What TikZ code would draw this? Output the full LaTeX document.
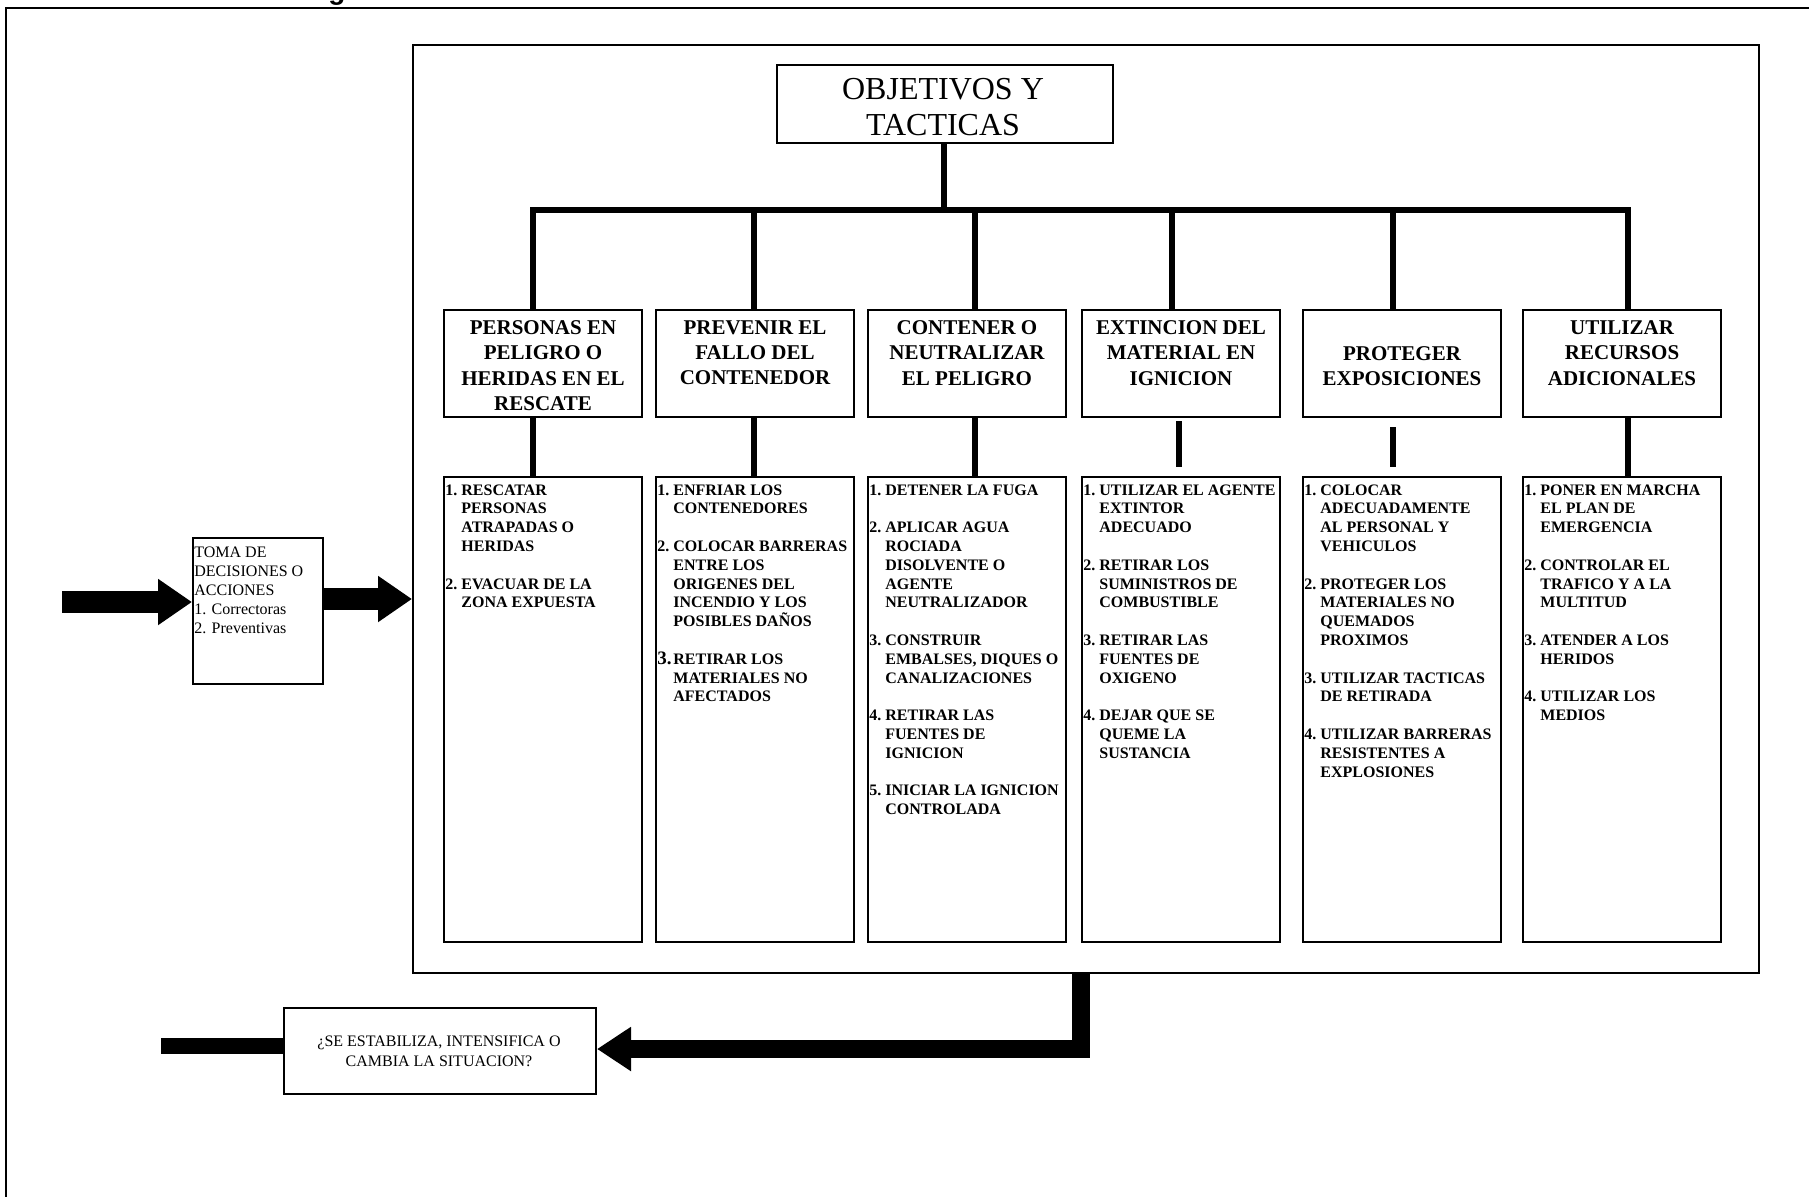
\documentclass[tikz,border=0pt]{standalone}
\usepackage{fontspec}
\setmainfont{Liberation Serif}
\newfontfamily\topfont{Liberation Sans}
\usetikzlibrary{arrows.meta}
\newcommand{\itm}[2]{\makebox[8pt][l]{#1}#2}
\newcommand{\cnt}[1]{\hspace*{8pt}#1}
\newcommand{\gap}{\\[9.4pt]}
\tikzset{
  box/.style={draw, line width=1pt, inner sep=0pt, anchor=north west},
  hdrbox/.style={box, minimum width=99pt, minimum height=53.5pt},
  lstbox/.style={box, minimum width=99pt, minimum height=232.5pt},
  hdrtxt/.style={inner sep=0pt, anchor=north, align=center, font=\bfseries\fontsize{10.5}{12.7}\selectfont},
  lsttxt/.style={inner sep=0pt, anchor=north west, align=left, font=\bfseries\fontsize{8}{9.4}\selectfont},
  stem/.style={line width=2.6pt},
  fat/.style={line width=11pt, -{Triangle[length=17pt, width=22pt]}},
  fatb/.style={line width=9pt, miter limit=10, -{Triangle[length=17pt, width=21pt]}},
}
\begin{document}
\begin{tikzpicture}[x=0.5pt, y=-0.5pt]
\useasboundingbox (0,0) rectangle (1809,1196);
\clip (0,0) rectangle (1809,1196);
\fill[white] (0,0) rectangle (1809,1196);

% cut-off heading glyph at the very top
\node[inner sep=0pt, anchor=base, font=\topfont\bfseries\fontsize{14}{16}\selectfont] (gtop) at (337,-1) {g};

% outer frame (runs past the right and bottom edges)
\draw[line width=1.3pt] (6,1300) -- (6,8) -- (1950,8);

% big frame
\node[box, line width=1pt, minimum width=673pt, minimum height=464pt] (frame) at (412,44) {};

% title
\node[box, minimum width=168pt, minimum height=39pt] (title) at (776,64) {};
\node[inner sep=0pt, anchor=north, align=center, font=\fontsize{16}{18.2}\selectfont] (titletxt) at (943,78) {OBJETIVOS Y\\TACTICAS};

% header boxes
\node[hdrbox] (h1) at (443,309) {};
\node[hdrbox] (h2) at (655,309) {};
\node[hdrbox] (h3) at (867,309) {};
\node[hdrbox] (h4) at (1081,309) {};
\node[hdrbox] (h5) at (1302,309) {};
\node[hdrbox] (h6) at (1522,309) {};

\node[hdrtxt] (t1) at (h1.north |- 0,320) {PERSONAS EN\\PELIGRO O\\HERIDAS EN EL\\RESCATE};
\node[hdrtxt] (t2) at (h2.north |- 0,320) {PREVENIR EL\\FALLO DEL\\CONTENEDOR};
\node[hdrtxt] (t3) at (h3.north |- 0,320) {CONTENER O\\NEUTRALIZAR\\EL PELIGRO};
\node[hdrtxt] (t4) at (h4.north |- 0,320) {EXTINCION DEL\\MATERIAL EN\\IGNICION};
\node[hdrtxt] (t5) at (h5.north |- 0,346) {PROTEGER\\EXPOSICIONES};
\node[hdrtxt] (t6) at (h6.north |- 0,320) {UTILIZAR\\RECURSOS\\ADICIONALES};

% list boxes
\node[lstbox] (l1) at (443,476) {};
\node[lstbox] (l2) at (655,476) {};
\node[lstbox] (l3) at (867,476) {};
\node[lstbox] (l4) at (1081,476) {};
\node[lstbox] (l5) at (1302,476) {};
\node[lstbox] (l6) at (1522,476) {};

\node[lsttxt] (x1) at ([xshift=1pt]l1.north west |- 0,484) {%
\itm{1.}{RESCATAR}\\\cnt{PERSONAS}\\\cnt{ATRAPADAS O}\\\cnt{HERIDAS}\gap
\itm{2.}{EVACUAR DE LA}\\\cnt{ZONA EXPUESTA}};
\node[lsttxt] (x2) at ([xshift=1pt]l2.north west |- 0,484) {%
\itm{1.}{ENFRIAR LOS}\\\cnt{CONTENEDORES}\gap
\itm{2.}{COLOCAR BARRERAS}\\\cnt{ENTRE LOS}\\\cnt{ORIGENES DEL}\\\cnt{INCENDIO Y LOS}\\\cnt{POSIBLES DAÑOS}\gap
\makebox[8pt][l]{\fontsize{9.5}{9.4}\selectfont 3.}RETIRAR LOS\\\cnt{MATERIALES NO}\\\cnt{AFECTADOS}};
\node[lsttxt] (x3) at ([xshift=1pt]l3.north west |- 0,484) {%
\itm{1.}{DETENER LA FUGA}\gap
\itm{2.}{APLICAR AGUA}\\\cnt{ROCIADA}\\\cnt{DISOLVENTE O}\\\cnt{AGENTE}\\\cnt{NEUTRALIZADOR}\gap
\itm{3.}{CONSTRUIR}\\\cnt{EMBALSES, DIQUES O}\\\cnt{CANALIZACIONES}\gap
\itm{4.}{RETIRAR LAS}\\\cnt{FUENTES DE}\\\cnt{IGNICION}\gap
\itm{5.}{INICIAR LA IGNICION}\\\cnt{CONTROLADA}};
\node[lsttxt] (x4) at ([xshift=1pt]l4.north west |- 0,484) {%
\itm{1.}{UTILIZAR EL AGENTE}\\\cnt{EXTINTOR}\\\cnt{ADECUADO}\gap
\itm{2.}{RETIRAR LOS}\\\cnt{SUMINISTROS DE}\\\cnt{COMBUSTIBLE}\gap
\itm{3.}{RETIRAR LAS}\\\cnt{FUENTES DE}\\\cnt{OXIGENO}\gap
\itm{4.}{DEJAR QUE SE}\\\cnt{QUEME LA}\\\cnt{SUSTANCIA}};
\node[lsttxt] (x5) at ([xshift=1pt]l5.north west |- 0,484) {%
\itm{1.}{COLOCAR}\\\cnt{ADECUADAMENTE}\\\cnt{AL PERSONAL Y}\\\cnt{VEHICULOS}\gap
\itm{2.}{PROTEGER LOS}\\\cnt{MATERIALES NO}\\\cnt{QUEMADOS}\\\cnt{PROXIMOS}\gap
\itm{3.}{UTILIZAR TACTICAS}\\\cnt{DE RETIRADA}\gap
\itm{4.}{UTILIZAR BARRERAS}\\\cnt{RESISTENTES A}\\\cnt{EXPLOSIONES}};
\node[lsttxt] (x6) at ([xshift=1pt]l6.north west |- 0,484) {%
\itm{1.}{PONER EN MARCHA}\\\cnt{EL PLAN DE}\\\cnt{EMERGENCIA}\gap
\itm{2.}{CONTROLAR EL}\\\cnt{TRAFICO Y A LA}\\\cnt{MULTITUD}\gap
\itm{3.}{ATENDER A LOS}\\\cnt{HERIDOS}\gap
\itm{4.}{UTILIZAR LOS}\\\cnt{MEDIOS}};

% tree connectors
\coordinate (s0) at (944,210);
\coordinate (s1) at (533,210);
\coordinate (s2) at (754,210);
\coordinate (s3) at (975,210);
\coordinate (s4) at (1172,210);
\coordinate (s4b) at (1179,210);
\coordinate (s5) at (1393,210);
\coordinate (s6) at (1628,210);
\draw[stem] (s0 |- title.south) -- (s0);
\draw[stem, line width=3.2pt, line cap=rect] (s1) -- (s6);
\foreach \s/\h in {s1/h1, s2/h2, s3/h3, s4/h4, s5/h5, s6/h6}
  \draw[stem] (\s) -- (\s |- \h.north);
\draw[stem] (s1 |- h1.south) -- (s1 |- l1.north);
\draw[stem] (s2 |- h2.south) -- (s2 |- l2.north);
\draw[stem] (s3 |- h3.south) -- (s3 |- l3.north);
\draw[stem] ([yshift=-1.5pt]s4b |- h4.south) -- ([yshift=4.5pt]s4b |- l4.north);
\draw[stem] ([yshift=-4.5pt]s5 |- h5.south) -- ([yshift=4.5pt]s5 |- l5.north);
\draw[stem] (s6 |- h6.south) -- (s6 |- l6.north);

% decision box on the left
\node[box, minimum width=65pt, minimum height=73pt] (toma) at (192,537) {};
\node[inner sep=0pt, anchor=north west, align=left, font=\fontsize{8}{9.5}\selectfont] (tomatxt) at (194,546)
  {TOMA DE\\DECISIONES O\\ACCIONES\\1. Correctoras\\2. Preventivas};
\coordinate (inL) at (62,602);
\coordinate (oy) at (0,599);
\draw[fat] (inL) -- (inL -| toma.west);
\draw[fat] (toma.east |- oy) -- (frame.west |- oy);

% bottom question box
\node[box, minimum width=156pt, minimum height=43pt] (bot) at (283,1007) {};
\node[inner sep=0pt, align=center, font=\fontsize{8}{10}\selectfont] (bottxt) at (439,1051)
  {¿SE ESTABILIZA, INTENSIFICA O\\CAMBIA LA SITUACION?};
\coordinate (bx) at (1081,0);
\coordinate (by) at (0,1049);
\draw[fatb] (frame.south -| bx) |- (bot.east |- by);
\coordinate (lb) at (161,1046);
\draw[line width=8pt] (bot.west |- lb) -- (lb);
\end{tikzpicture}
\end{document}
